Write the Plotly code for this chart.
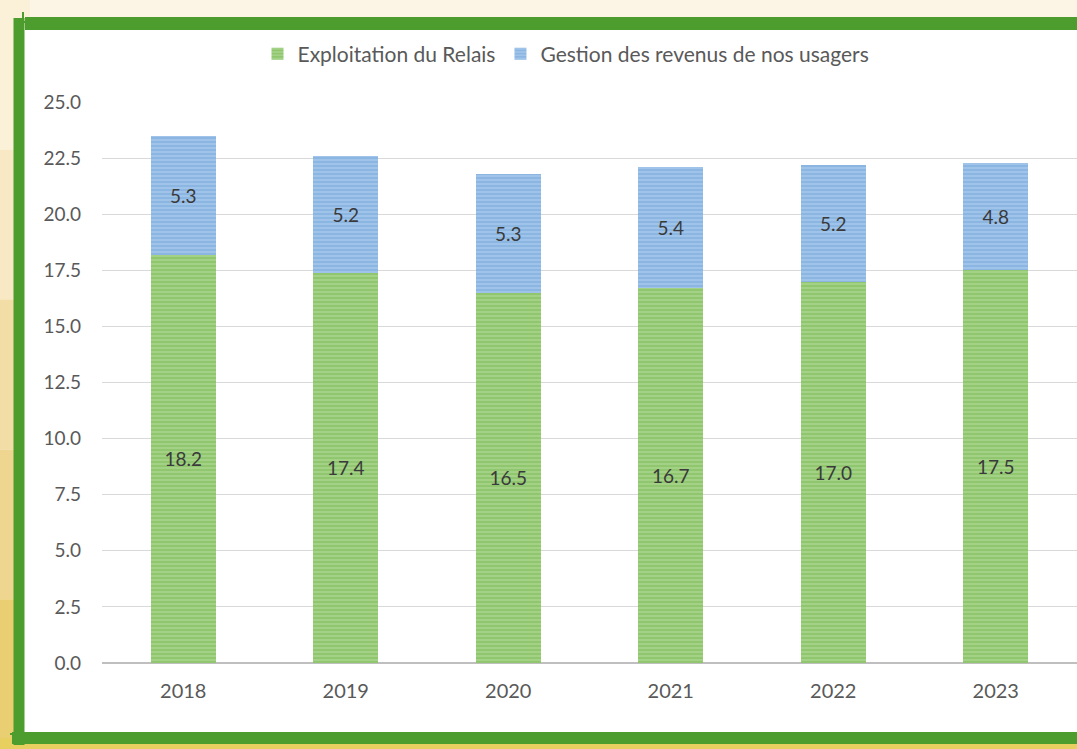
import plotly.graph_objects as go

years = ["2018", "2019", "2020", "2021", "2022", "2023"]
exploitation = [18.2, 17.4, 16.5, 16.7, 17.0, 17.5]
gestion = [5.3, 5.2, 5.3, 5.4, 5.2, 4.8]
y_ticks = [0, 2.5, 5, 7.5, 10, 12.5, 15, 17.5, 20, 22.5, 25]

W, H = 1077, 749
L, R, T, B = 102, 1077, 102, 663

def px(x):
    return (x - L) / (R - L)

def py(y):
    return (B - y) / (B - T)

FONT = "Lato, 'Open Sans', sans-serif"
TXT = "#595959"

fig = go.Figure()
fig.add_bar(
    x=years, y=exploitation, name="Exploitation du Relais",
    marker=dict(color="#8fc66e", line=dict(width=0),
                pattern=dict(shape="-", fgcolor="#b8de9f", size=4, solidity=0.5)),
    text=[f"{v:.1f}" for v in exploitation], textposition="inside",
    insidetextanchor="middle", textfont=dict(size=19, color="#3a3a3a", family=FONT),
)
fig.add_bar(
    x=years, y=gestion, name="Gestion des revenus de nos usagers",
    marker=dict(color="#8cb6e2", line=dict(width=0),
                pattern=dict(shape="-", fgcolor="#b4d0ef", size=4, solidity=0.5)),
    text=[f"{v:.1f}" for v in gestion], textposition="inside",
    insidetextanchor="middle", textfont=dict(size=19, color="#3a3a3a", family=FONT),
)

shapes = []
left_cols = ["#fbf0d8", "#f8e9c4", "#f3dda6", "#eed690", "#e9cf72"]
n = len(left_cols)
for i, c in enumerate(left_cols):
    shapes.append(dict(type="rect", xref="paper", yref="paper", layer="below",
                       x0=px(0), x1=px(30), y0=py(i * H / n), y1=py((i + 1) * H / n),
                       fillcolor=c, line=dict(width=0)))
shapes.append(dict(type="rect", xref="paper", yref="paper", layer="below",
                   x0=px(0), x1=px(W), y0=py(738), y1=py(H),
                   fillcolor="#e8d060", line=dict(width=0)))
shapes.append(dict(type="rect", xref="paper", yref="paper", layer="below",
                   x0=px(22), x1=px(W + 5), y0=py(28), y1=py(736),
                   fillcolor="white", line=dict(width=0)))
G = "#4c9c2e"
shapes += [
    dict(type="line", xref="paper", yref="paper", x0=px(25), x1=px(W), y0=py(23.5), y1=py(23.5),
         line=dict(color=G, width=13)),
    dict(type="line", xref="paper", yref="paper", x0=px(15), x1=px(80), y0=py(22), y1=py(22),
         line=dict(color=G, width=2)),
    dict(type="line", xref="paper", yref="paper", x0=px(19), x1=px(19), y0=py(18), y1=py(745),
         line=dict(color=G, width=11)),
    dict(type="line", xref="paper", yref="paper", x0=px(23), x1=px(23), y0=py(12), y1=py(60),
         line=dict(color=G, width=2)),
    dict(type="line", xref="paper", yref="paper", x0=px(12), x1=px(W), y0=py(738), y1=py(738),
         line=dict(color=G, width=12)),
    dict(type="line", xref="paper", yref="paper", x0=px(10), x1=px(80), y0=py(734), y1=py(734),
         line=dict(color=G, width=2)),
]

fig.update_layout(
    width=W, height=H,
    margin=dict(l=L, r=W - R, t=T, b=H - B),
    barmode="stack", bargap=0.6,
    paper_bgcolor="#fcf5e6", plot_bgcolor="rgba(0,0,0,0)",
    font=dict(family=FONT, size=20, color=TXT),
    showlegend=True,
    legend=dict(orientation="h", x=px(566), xanchor="center", y=py(54), yanchor="middle",
                font=dict(size=21, color=TXT), traceorder="normal",
                itemwidth=30, bgcolor="rgba(0,0,0,0)"),
    shapes=shapes,
)
fig.update_yaxes(range=[0, 25], tickvals=y_ticks, ticktext=[f"{v:.1f}" for v in y_ticks],
                 showgrid=True, gridcolor="#d9d9d9", gridwidth=1,
                 zeroline=True, zerolinecolor="#bfbfbf", zerolinewidth=2,
                 tickfont=dict(size=19, color=TXT), ticklabelstandoff=20, showline=False)
fig.update_xaxes(tickfont=dict(size=20, color=TXT), ticklabelstandoff=14, showline=False,
                 showgrid=False)

fig.write_html("out.html", config={"displayModeBar": False},
               post_script="document.body.style.margin='0';document.body.style.overflow='hidden';")
